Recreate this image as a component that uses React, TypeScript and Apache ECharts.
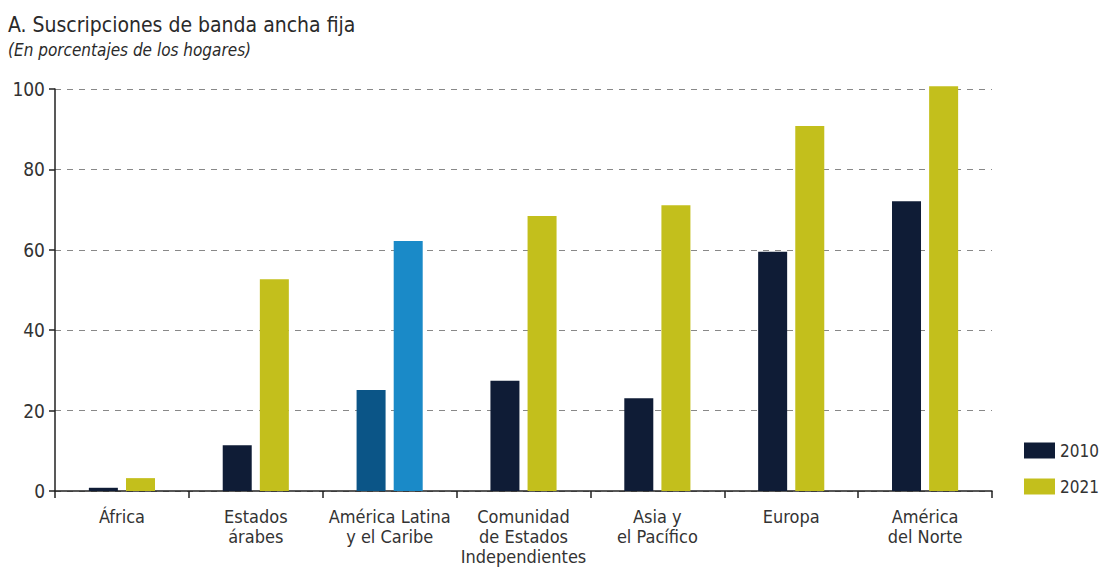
import React, { useEffect, useRef } from "react";
import * as echarts from "echarts";

const categories = [
  "África",
  "Estados\nárabes",
  "América Latina\ny el Caribe",
  "Comunidad\nde Estados\nIndependientes",
  "Asia y\nel Pacífico",
  "Europa",
  "América\ndel Norte",
];
const values2010 = [0.8, 11.4, 25.1, 27.4, 23.1, 59.5, 72.1];
const values2021 = [3.2, 52.7, 62.2, 68.4, 71.1, 90.8, 100.7];
const yTicks = [0, 20, 40, 60, 80, 100];
const highlightIndex = 2;

const C2010 = "#0f1c36";
const C2021 = "#c3bf1c";
const H2010 = "#0b5587";
const H2021 = "#1a8ac8";
const FONT = "'Liberation Sans Narrow', 'DejaVu Sans Condensed', Roboto, sans-serif";

export default function App() {
  const ref = useRef<HTMLDivElement>(null);
  useEffect(() => {
    if (!ref.current) return;
    const chart = echarts.init(ref.current, undefined, { renderer: "svg" });
    const mk = (vals: number[], hl: string) =>
      vals.map((v, i) => (i === highlightIndex ? { value: v, itemStyle: { color: hl } } : v));
    chart.setOption({
      animation: false,
      textStyle: { fontFamily: FONT },
      title: [
        {
          text: "A. Suscripciones de banda ancha fija",
          left: 3,
          top: 9,
          textStyle: { fontFamily: FONT, fontSize: 21, fontWeight: "normal", color: "#2a2a2a" },
        },
        {
          text: "(En porcentajes de los hogares)",
          left: 3,
          top: 36,
          textStyle: { fontFamily: FONT, fontSize: 17, fontStyle: "italic", fontWeight: "normal", color: "#2a2a2a" },
        },
      ],
      legend: {
        orient: "vertical",
        left: 1019,
        top: 437,
        itemWidth: 31,
        itemHeight: 16,
        itemGap: 19,
        icon: "rect",
        textStyle: { fontFamily: FONT, fontSize: 17, color: "#333" },
        data: [
          { name: "2010", itemStyle: { color: C2010 } },
          { name: "2021", itemStyle: { color: C2021 } },
        ],
      },
      grid: {
        left: 55,
        right: 108,
        top: 89,
        bottom: 76,
        containLabel: false,
        outerBoundsMode: "none",
      },
      xAxis: {
        type: "category",
        data: categories,
        axisLine: { lineStyle: { color: "#222", width: 1.5 } },
        axisTick: { show: true, length: 7, lineStyle: { color: "#222", width: 1.5 } },
        axisLabel: {
          fontFamily: FONT,
          fontSize: 18,
          color: "#333",
          lineHeight: 20,
          margin: 15,
          interval: 0,
        },
      },
      yAxis: {
        type: "value",
        min: 0,
        max: 100,
        interval: 20,
        axisLine: { show: true, lineStyle: { color: "#222", width: 1.5 } },
        axisTick: { show: true, length: 6, lineStyle: { color: "#222", width: 1.5 } },
        axisLabel: {
          fontFamily: FONT,
          fontSize: 19,
          color: "#333",
          margin: 10,
          formatter: (v: number) => (yTicks.includes(v) ? String(v) : ""),
        },
        splitLine: { lineStyle: { color: "#888", type: [6, 6], width: 1 } },
      },
      series: [
        {
          name: "2010",
          type: "bar",
          data: mk(values2010, H2010),
          barWidth: 29,
          barGap: "28%",
          clip: false,
          itemStyle: { color: C2010 },
        },
        {
          name: "2021",
          type: "bar",
          data: mk(values2021, H2021),
          barWidth: 29,
          clip: false,
          itemStyle: { color: C2021 },
        },
      ],
    });
    return () => chart.dispose();
  }, []);
  return (
    <div
      ref={ref}
      style={{ position: "fixed", left: 0, top: 0, width: 1100, height: 567, background: "#fff" }}
    />
  );
}
